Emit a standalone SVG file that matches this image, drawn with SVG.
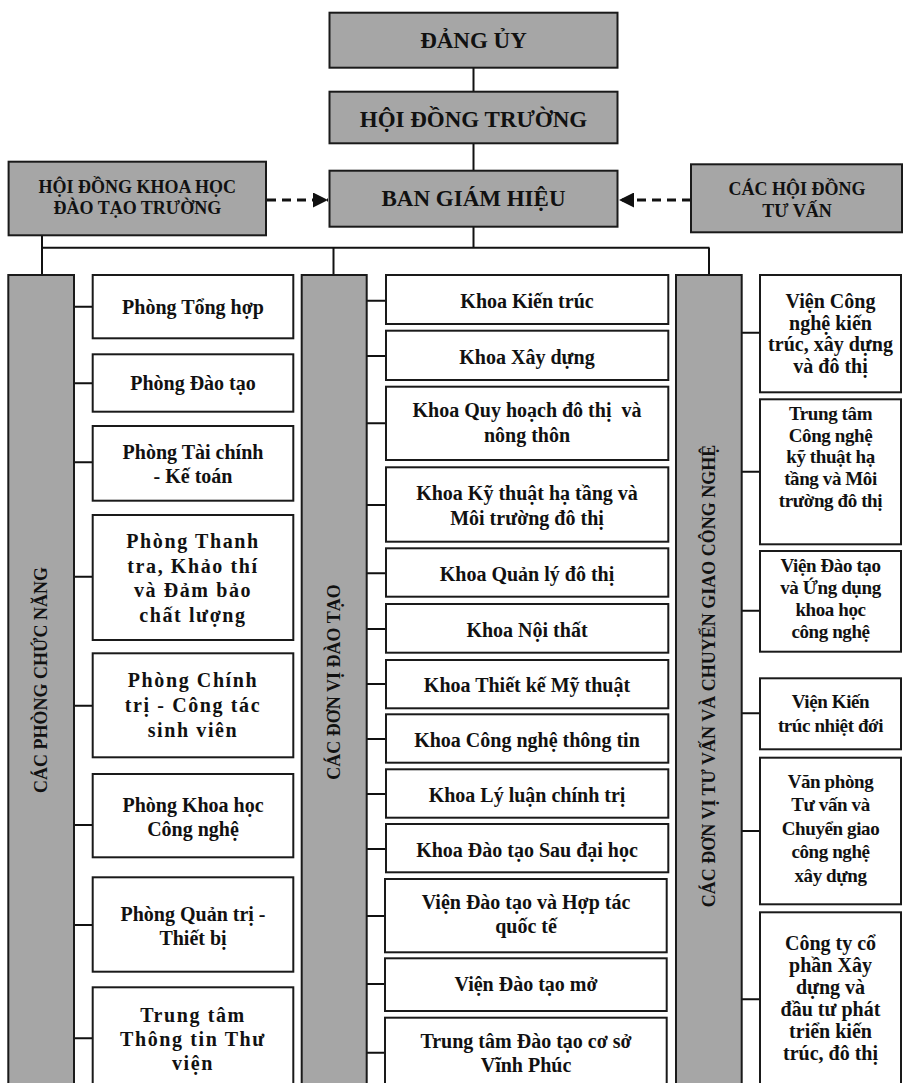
<svg xmlns="http://www.w3.org/2000/svg" width="903" height="1083" viewBox="0 0 903 1083">
<defs>
<style>
.g{fill:#a6a6a6;stroke:#1a1a1a;stroke-width:2}
.w{fill:#fff;stroke:#1a1a1a;stroke-width:2}
.t{font-family:"Liberation Serif","Times New Roman",serif;font-weight:bold;fill:#111;text-anchor:middle}
.h{font-size:23px}
.s{font-size:18px}
.b{font-size:20px}
.sp{letter-spacing:1.6px}
.cn{font-size:19px;letter-spacing:-0.4px}
.ln{stroke:#111;stroke-width:2;fill:none}
.dash{stroke:#111;stroke-width:3;stroke-dasharray:9 6;fill:none}
</style>
<marker id="ah" viewBox="0 0 10 10" refX="10" refY="5" markerWidth="5" markerHeight="5" markerUnits="strokeWidth" orient="auto">
<path d="M0,0 L10,5 L0,10 z" fill="#111"/>
</marker>
</defs>
<rect width="903" height="1083" fill="#fff"/>

<g id="connectors">
<line class="ln" x1="473.5" y1="67.7" x2="473.5" y2="91.7"/>
<line class="ln" x1="473.5" y1="143.3" x2="473.5" y2="170.7"/>
<line class="ln" x1="473.5" y1="226.7" x2="473.5" y2="247.7"/>
<line class="ln" x1="41" y1="247.7" x2="709.5" y2="247.7"/>
<line class="ln" x1="42" y1="235.3" x2="42" y2="275"/>
<line class="ln" x1="333.5" y1="247.7" x2="333.5" y2="275"/>
<line class="ln" x1="709" y1="247.7" x2="709" y2="275"/>
<line class="dash" x1="267" y1="200" x2="328" y2="200" marker-end="url(#ah)"/>
<line class="dash" x1="691" y1="200" x2="619" y2="200" marker-end="url(#ah)"/>
<path class="ln" d="M74,306.7H92.7M74,383.3H92.7M74,462.3H92.7M74,576.7H92.7M74,705.7H92.7M74,825H92.7M74,925H92.7M74,1038.3H92.7"/>
<path class="ln" d="M366.7,300.7H386M366.7,356H386M366.7,423.3H386M366.7,505H386M366.7,573.3H386M366.7,629H386M366.7,684H386M366.7,739H386M366.7,794H386M366.7,849H386M366.7,916H385M366.7,984H385M366.7,1052.7H385"/>
<path class="ln" d="M741.7,332.7H760M741.7,471.7H760M741.7,610.7H760M741.7,713.3H760M741.7,831H760M741.7,999.3H760"/>
</g>

<g id="dang-uy"><rect class="g" x="329.5" y="12.7" width="288" height="55"/><text class="t h" x="473.5" y="48">ĐẢNG ỦY</text></g>
<g id="hoi-dong-truong"><rect class="g" x="329.5" y="91.7" width="288" height="51.6"/><text class="t h" x="473.5" y="126.5">HỘI ĐỒNG TRƯỜNG</text></g>
<g id="ban-giam-hieu"><rect class="g" x="329.5" y="170.7" width="288" height="56"/><text class="t h" x="473.5" y="206">BAN GIÁM HIỆU</text></g>
<g id="hd-khoa-hoc"><rect class="g" x="8.6" y="161.7" width="257.4" height="73.6"/><text class="t s" x="137.3" y="193">HỘI ĐỒNG KHOA HỌC</text><text class="t s" x="137.3" y="214">ĐÀO TẠO TRƯỜNG</text></g>
<g id="hd-tu-van"><rect class="g" x="691" y="164.3" width="211" height="68"/><text class="t s" x="797" y="194.5">CÁC HỘI ĐỒNG</text><text class="t s" x="797" y="216.5">TƯ VẤN</text></g>

<g id="col-chuc-nang"><rect class="g" x="8.3" y="275" width="65.7" height="820"/><text class="t s" transform="translate(47,680) rotate(-90)" x="0" y="0">CÁC PHÒNG CHỨC NĂNG</text></g>
<g id="col-dao-tao"><rect class="g" x="301.7" y="275" width="65" height="820"/><text class="t s" transform="translate(340,682) rotate(-90)" x="0" y="0">CÁC ĐƠN VỊ ĐÀO TẠO</text></g>
<g id="col-tu-van"><rect class="g" x="676" y="275" width="65.7" height="820"/><text class="t s" transform="translate(715,676) rotate(-90)" x="0" y="0">CÁC ĐƠN VỊ TƯ VẤN VÀ CHUYỂN GIAO CÔNG NGHỆ</text></g>

<g id="p1"><rect class="w" x="92.7" y="275" width="200.6" height="63.3"/><text class="t b" x="193" y="314">Phòng Tổng hợp</text></g>
<g id="p2"><rect class="w" x="92.7" y="354.3" width="200.6" height="57.4"/><text class="t b" x="193" y="390">Phòng Đào tạo</text></g>
<g id="p3"><rect class="w" x="92.7" y="426" width="200.6" height="74.7"/><text class="t b" x="193" y="458.5">Phòng Tài chính</text><text class="t b" x="193" y="483">- Kế toán</text></g>
<g id="p4"><rect class="w" x="92.7" y="515" width="200.6" height="125"/><text class="t b sp" x="193" y="548"><tspan x="193">Phòng Thanh</tspan><tspan x="193" dy="24.5">tra, Khảo thí</tspan><tspan x="193" dy="24.5">và Đảm bảo</tspan><tspan x="193" dy="24.5">chất lượng</tspan></text></g>
<g id="p5"><rect class="w" x="92.7" y="653.3" width="200.6" height="104"/><text class="t b sp" x="193" y="686.5"><tspan x="193">Phòng Chính</tspan><tspan x="193" dy="25">trị - Công tác</tspan><tspan x="193" dy="25">sinh viên</tspan></text></g>
<g id="p6"><rect class="w" x="92.7" y="774" width="200.6" height="83.3"/><text class="t b" x="193" y="811.5"><tspan x="193">Phòng Khoa học</tspan><tspan x="193" dy="24.5">Công nghệ</tspan></text></g>
<g id="p7"><rect class="w" x="92.7" y="877.3" width="200.6" height="94.4"/><text class="t b" x="193" y="920.5"><tspan x="193">Phòng Quản trị -</tspan><tspan x="193" dy="24">Thiết bị</tspan></text></g>
<g id="p8"><rect class="w" x="92.7" y="987.3" width="200.6" height="110"/><text class="t b sp" x="193" y="1021.5"><tspan x="193">Trung tâm</tspan><tspan x="193" dy="24">Thông tin Thư</tspan><tspan x="193" dy="24">viện</tspan></text></g>

<g id="k1"><rect class="w" x="386" y="275" width="282.3" height="49"/><text class="t b" x="527" y="307.5">Khoa Kiến trúc</text></g>
<g id="k2"><rect class="w" x="386" y="330.7" width="282.3" height="49.3"/><text class="t b" x="527" y="364">Khoa Xây dựng</text></g>
<g id="k3"><rect class="w" x="386" y="386.7" width="282.3" height="73.3"/><text class="t b" x="527" y="416.5" xml:space="preserve"><tspan x="527">Khoa Quy hoạch đô thị  và</tspan><tspan x="527" dy="25">nông thôn</tspan></text></g>
<g id="k4"><rect class="w" x="386" y="467.3" width="282.3" height="74.4"/><text class="t b" x="527" y="500"><tspan x="527">Khoa Kỹ thuật hạ tầng và</tspan><tspan x="527" dy="25">Môi trường đô thị</tspan></text></g>
<g id="k5"><rect class="w" x="386" y="548.3" width="282.3" height="48.4"/><text class="t b" x="527" y="580.5">Khoa Quản lý đô thị</text></g>
<g id="k6"><rect class="w" x="386" y="604" width="282.3" height="48.7"/><text class="t b" x="527" y="636.5">Khoa Nội thất</text></g>
<g id="k7"><rect class="w" x="386" y="660" width="282.3" height="48.3"/><text class="t b" x="527" y="691.5">Khoa Thiết kế Mỹ thuật</text></g>
<g id="k8"><rect class="w" x="386" y="714.3" width="282.3" height="48.4"/><text class="t b" x="527" y="746.5">Khoa Công nghệ thông tin</text></g>
<g id="k9"><rect class="w" x="386" y="769.3" width="282.3" height="48.4"/><text class="t b" x="527" y="801.5">Khoa Lý luận chính trị</text></g>
<g id="k10"><rect class="w" x="386" y="824" width="282.3" height="48.3"/><text class="t b" x="527" y="856.5">Khoa Đào tạo Sau đại học</text></g>
<g id="k11"><rect class="w" x="385" y="879" width="281.7" height="73.3"/><text class="t b" x="526" y="909"><tspan x="526">Viện Đào tạo và Hợp tác</tspan><tspan x="526" dy="24">quốc tế</tspan></text></g>
<g id="k12"><rect class="w" x="385" y="958.3" width="281.7" height="52.7"/><text class="t b" x="526" y="991">Viện Đào tạo mở</text></g>
<g id="k13"><rect class="w" x="385" y="1017.7" width="281.7" height="80"/><text class="t b" x="526" y="1048"><tspan x="526">Trung tâm Đào tạo cơ sở</tspan><tspan x="526" dy="23.5">Vĩnh Phúc</tspan></text></g>

<g id="v1"><rect class="w" x="760" y="275" width="141" height="117.3"/><text class="t b" x="830.5" y="308"><tspan x="830.5">Viện Công</tspan><tspan x="830.5" dy="21.7">nghệ kiến</tspan><tspan x="830.5" dy="21.7">trúc, xây dựng</tspan><tspan x="830.5" dy="21.7">và đô thị</tspan></text></g>
<g id="v2"><rect class="w" x="760" y="399.3" width="141" height="145"/><text class="t cn" x="830.5" y="420"><tspan x="830.5">Trung tâm</tspan><tspan x="830.5" dy="21.7">Công nghệ</tspan><tspan x="830.5" dy="21.7">kỹ thuật hạ</tspan><tspan x="830.5" dy="21.7">tầng và Môi</tspan><tspan x="830.5" dy="21.7">trường đô thị</tspan></text></g>
<g id="v3"><rect class="w" x="760" y="551" width="141" height="100.7"/><text class="t cn" x="830.5" y="571.5"><tspan x="830.5">Viện Đào tạo</tspan><tspan x="830.5" dy="22.3">và Ứng dụng</tspan><tspan x="830.5" dy="22.3">khoa học</tspan><tspan x="830.5" dy="22.3">công nghệ</tspan></text></g>
<g id="v4"><rect class="w" x="760" y="678.3" width="141" height="71"/><text class="t cn" x="830.5" y="708"><tspan x="830.5">Viện Kiến</tspan><tspan x="830.5" dy="23.5">trúc nhiệt đới</tspan></text></g>
<g id="v5"><rect class="w" x="760" y="757.7" width="141" height="146.6"/><text class="t cn" font-size="20" x="830.5" y="787.5"><tspan x="830.5">Văn phòng</tspan><tspan x="830.5" dy="23.5">Tư vấn và</tspan><tspan x="830.5" dy="23.5">Chuyển giao</tspan><tspan x="830.5" dy="23.5">công nghệ</tspan><tspan x="830.5" dy="23.5">xây dựng</tspan></text></g>
<g id="v6"><rect class="w" x="760" y="912.3" width="141" height="185"/><text class="t b" x="830.5" y="950"><tspan x="830.5">Công ty cổ</tspan><tspan x="830.5" dy="22">phần Xây</tspan><tspan x="830.5" dy="22">dựng và</tspan><tspan x="830.5" dy="22">đầu tư phát</tspan><tspan x="830.5" dy="22">triển kiến</tspan><tspan x="830.5" dy="22">trúc, đô thị</tspan></text></g>
</svg>
